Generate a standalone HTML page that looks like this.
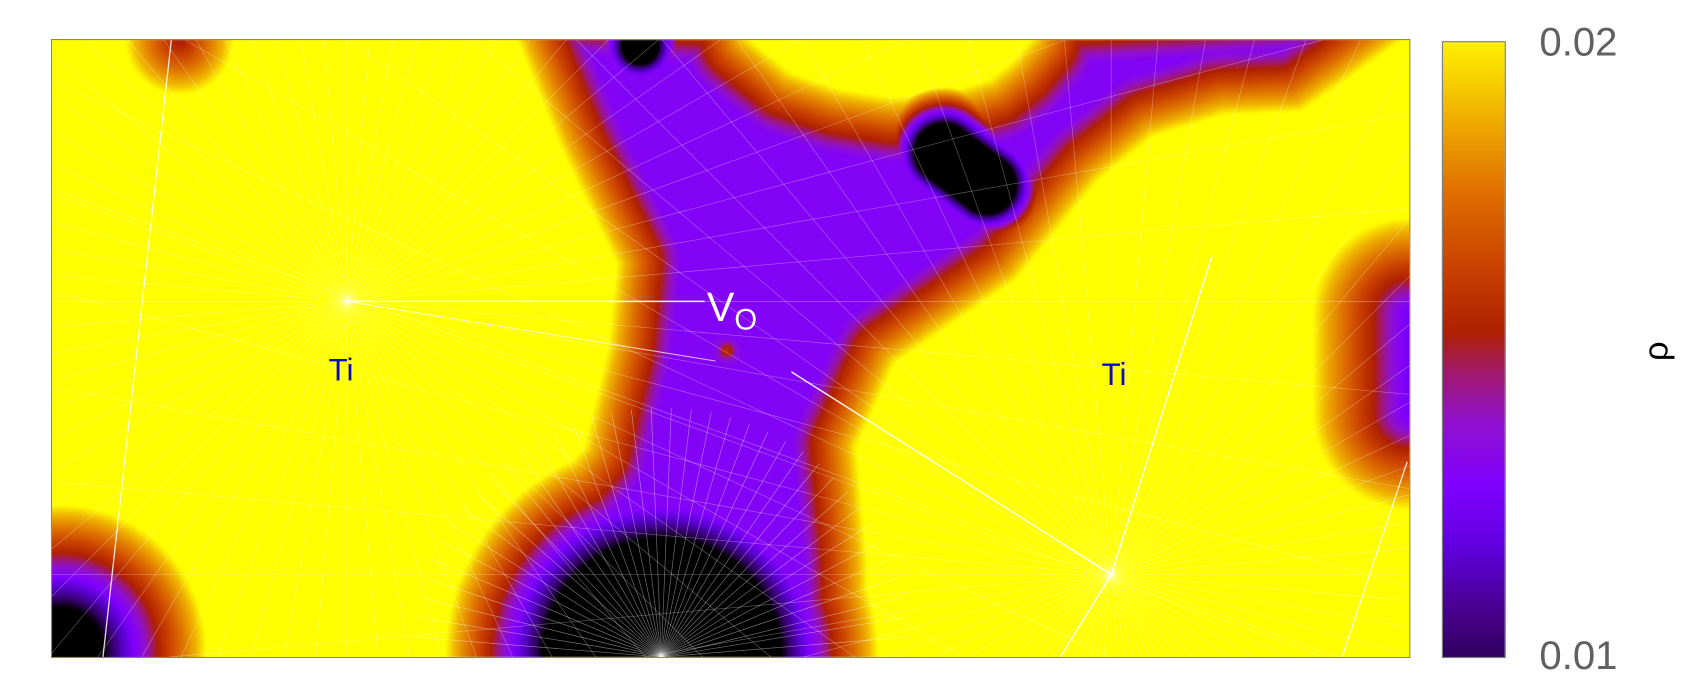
<!DOCTYPE html>
<html><head><meta charset="utf-8"><style>
html,body{margin:0;background:#fff;width:1700px;height:700px;overflow:hidden}
#root{position:absolute;left:0;top:0;width:1568px;height:645px;transform:scale(1.0841);transform-origin:0 0;font-family:"Liberation Sans",sans-serif;overflow:hidden}
#plot{position:absolute;left:48px;top:37px;width:1252px;height:569px;overflow:hidden}
#field{position:absolute;left:0;top:0}
#lines{position:absolute;left:0;top:0;overflow:hidden}
#frame{position:absolute;left:47px;top:36px;width:1252px;height:569px;border:1px solid #8a8a40}
#cbar{position:absolute;left:1330px;top:38px;width:57px;height:567px;border:1px solid #777;
background:linear-gradient(to top,#300060 0%,#4a0090 8%,#6000e0 18%,#8000ff 28%,#9010d0 38%,#a01870 46%,#b02000 53%,#c84000 63%,#e07000 76%,#f0b000 88%,#fff000 100%)}
.tick{position:absolute;left:1420px;font-size:37px;line-height:42px;color:#606060}
.ti{position:absolute;font-size:29px;line-height:32px;color:#0a0ac8}
</style></head><body>
<div id="root">
<div id="plot">
<canvas id="field" width="1252" height="569"></canvas>
<svg id="lines" width="1252" height="569"></svg>
</div>
<div id="frame"></div>
<div class="ti" style="left:303px;top:326px">Ti</div>
<div class="ti" style="left:1016px;top:330px">Ti</div>
<div style="position:absolute;left:652px;top:262px;color:#fff;font-size:38px;line-height:44px">V<span style="font-size:27px;position:relative;top:8px">O</span></div>
<div id="cbar"></div>
<div class="tick" style="top:18px">0.02</div>
<div class="tick" style="top:584px">0.01</div>
<div style="position:absolute;left:1518px;top:306px;font-size:32px;line-height:36px;transform:rotate(-90deg);color:#000">ρ</div>
</div>
<script>
// boundary of the low-density (non-saturated) region, data units (x right, y up)
const regionX=[4.2,4.29,4.69,5.05,5.20,5.12,4.90,4.52,4.02,3.72,3.62,3.55,7.55,7.52,7.52,7.42,7.77,8.89,9.65,10.15,10.8,11.51,11.92,12.45,12.6,9.12,9.04,8.85,8.65,8.2,7.73,7.25,6.81,6.41,6.32];
const regionY=[6.2,5.67,4.68,3.94,3.63,2.86,1.94,1.51,1.16,0.66,0,-0.5,-0.5,0,0.86,1.94,2.71,3.48,4.40,4.80,5.0,5.03,5.31,5.69,6.26,6.06,5.72,5.5,5.34,5.2,5.17,5.25,5.4,5.72,6.06];
const plateau=0.32;
// density wells: segment endpoints [x1,y1,x2,y2], radius, core level
const wellSeg=[[8.22,4.66,8.62,4.36],[5.42,5.64,5.42,5.64],[5.62,0,5.62,0],[0.07,0.06,0.07,0.06],[12.52,3.16,12.52,2.26],[1.17,5.69,1.17,5.69]];
const wellR=[0.6,0.5,2.0,1.35,0.9,0.5];
const wellC=[-0.8,-0.5,-1.222,-0.42,0.25,0.5];
const vacancy=[6.22,2.83];
const tiSites=[[2.72,3.28],[9.77,0.76]];
const W=1252,H=569;
const xs=x=>x*100, ys=y=>H-y*100;
const PX=regionX.map(xs),PY=regionY.map(ys),N=PX.length;
const stops=[[0,[0,0,0]],[0.08,[48,0,96]],[0.2,[90,0,208]],[0.3,[128,0,255]],[0.4,[144,16,208]],[0.47,[160,24,112]],[0.53,[176,32,0]],[0.65,[204,68,0]],[0.78,[224,120,0]],[0.9,[240,180,0]],[1,[255,255,0]]];
function cmap(t){t=Math.max(0,Math.min(1,t));for(let i=1;i<stops.length;i++){if(t<=stops[i][0]){const a=stops[i-1],b=stops[i],f=(t-a[0])/(b[0]-a[0]);return [0,1,2].map(k=>a[1][k]+(b[1][k]-a[1][k])*f);}}return stops[stops.length-1][1];}
function segDist(px,py,ax,ay,bx,by){const dx=bx-ax,dy=by-ay,L=dx*dx+dy*dy;let t=L?((px-ax)*dx+(py-ay)*dy)/L:0;t=Math.max(0,Math.min(1,t));return Math.hypot(px-ax-t*dx,py-ay-t*dy);}
const ctx=document.getElementById('field').getContext('2d');
const img=ctx.createImageData(W,H);
const vx=xs(vacancy[0]),vy=ys(vacancy[1]);
for(let py=0;py<H;py++)for(let px=0;px<W;px++){
 let inside=false,dmin=1e9;
 for(let i=0,j=N-1;i<N;j=i++){
  if(((PY[i]>py)!=(PY[j]>py))&&(px<(PX[j]-PX[i])*(py-PY[i])/(PY[j]-PY[i])+PX[i]))inside=!inside;
  const d=segDist(px,py,PX[j],PY[j],PX[i],PY[i]);if(d<dmin)dmin=d;}
 let v=inside?Math.max(plateau,1-(1-plateau)*dmin/60):1;
 for(let k=0;k<wellSeg.length;k++){const s=wellSeg[k];const d=segDist(px,py,xs(s[0]),ys(s[1]),xs(s[2]),ys(s[3]));
  const c=wellC[k],val=c+(1-c)*d/(wellR[k]*100);if(val<v)v=val;}
 const dv=Math.hypot(px-vx,py-vy);v+=0.25*Math.exp(-(dv/8)*(dv/8));
 const col=cmap(v),i=(py*W+px)*4;img.data[i]=col[0];img.data[i+1]=col[1];img.data[i+2]=col[2];img.data[i+3]=255;}
ctx.putImageData(img,0,0);
const svg=document.getElementById('lines'),NS='http://www.w3.org/2000/svg';
function clipT(x1,y1,x2,y2){let t0=0,t1=1;const dx=x2-x1,dy=y2-y1;
 const p=[-dx,dx,-dy,dy],q=[x1,W-x1,y1,H-y1];
 for(let i=0;i<4;i++){if(p[i]===0){if(q[i]<0)return null;}else{const r=q[i]/p[i];if(p[i]<0){if(r>t1)return null;if(r>t0)t0=r;}else{if(r<t0)return null;if(r<t1)t1=r;}}}
 return [x1+t0*dx,y1+t0*dy,x1+t1*dx,y1+t1*dy];}
function line(x1,y1,x2,y2,w,o,name){const c=clipT(x1,y1,x2,y2);if(!c)return;
const l=document.createElementNS(NS,'line');
l.setAttribute('x1',c[0]);l.setAttribute('y1',c[1]);l.setAttribute('x2',c[2]);l.setAttribute('y2',c[3]);
l.setAttribute('stroke','#fff');l.setAttribute('stroke-width',w);l.setAttribute('stroke-opacity',o);


svg.appendChild(l);}
tiSites.forEach(t=>{const cx=xs(t[0]),cy=ys(t[1]);for(let k=0;k<72;k++){const a=k/72*Math.PI*2;line(cx,cy,cx+1400*Math.cos(a),cy+1400*Math.sin(a),0.6,0.35,'streamline');}});
const bx=xs(5.62),by=H;
for(let k=0;k<40;k++){const a=Math.PI+k/39*Math.PI;line(bx,by,bx+230*Math.cos(a),by+230*Math.sin(a),0.6,0.45,'streamline');}
const t1=tiSites[0],t2=tiSites[1];
line(xs(t1[0]),ys(t1[1]),vx-20,vy-45,1.4,0.9,'main-streamline');
line(xs(t1[0]),ys(t1[1]),vx-10,vy+10,1.0,0.7,'main-streamline');
line(xs(t2[0]),ys(t2[1]),vx+60,vy+20,1.4,0.9,'main-streamline');
line(xs(t2[0]),ys(t2[1]),xs(10.7),ys(3.7),1.4,0.9,'main-streamline');
line(xs(t2[0]),ys(t2[1]),xs(9.3),H,1.4,0.9,'main-streamline');
line(xs(0.47),H,xs(1.1),0,1.2,0.85,'main-streamline');
line(xs(11.9),H,xs(12.5),ys(1.8),1.2,0.85,'main-streamline');
</script>
</body></html>
